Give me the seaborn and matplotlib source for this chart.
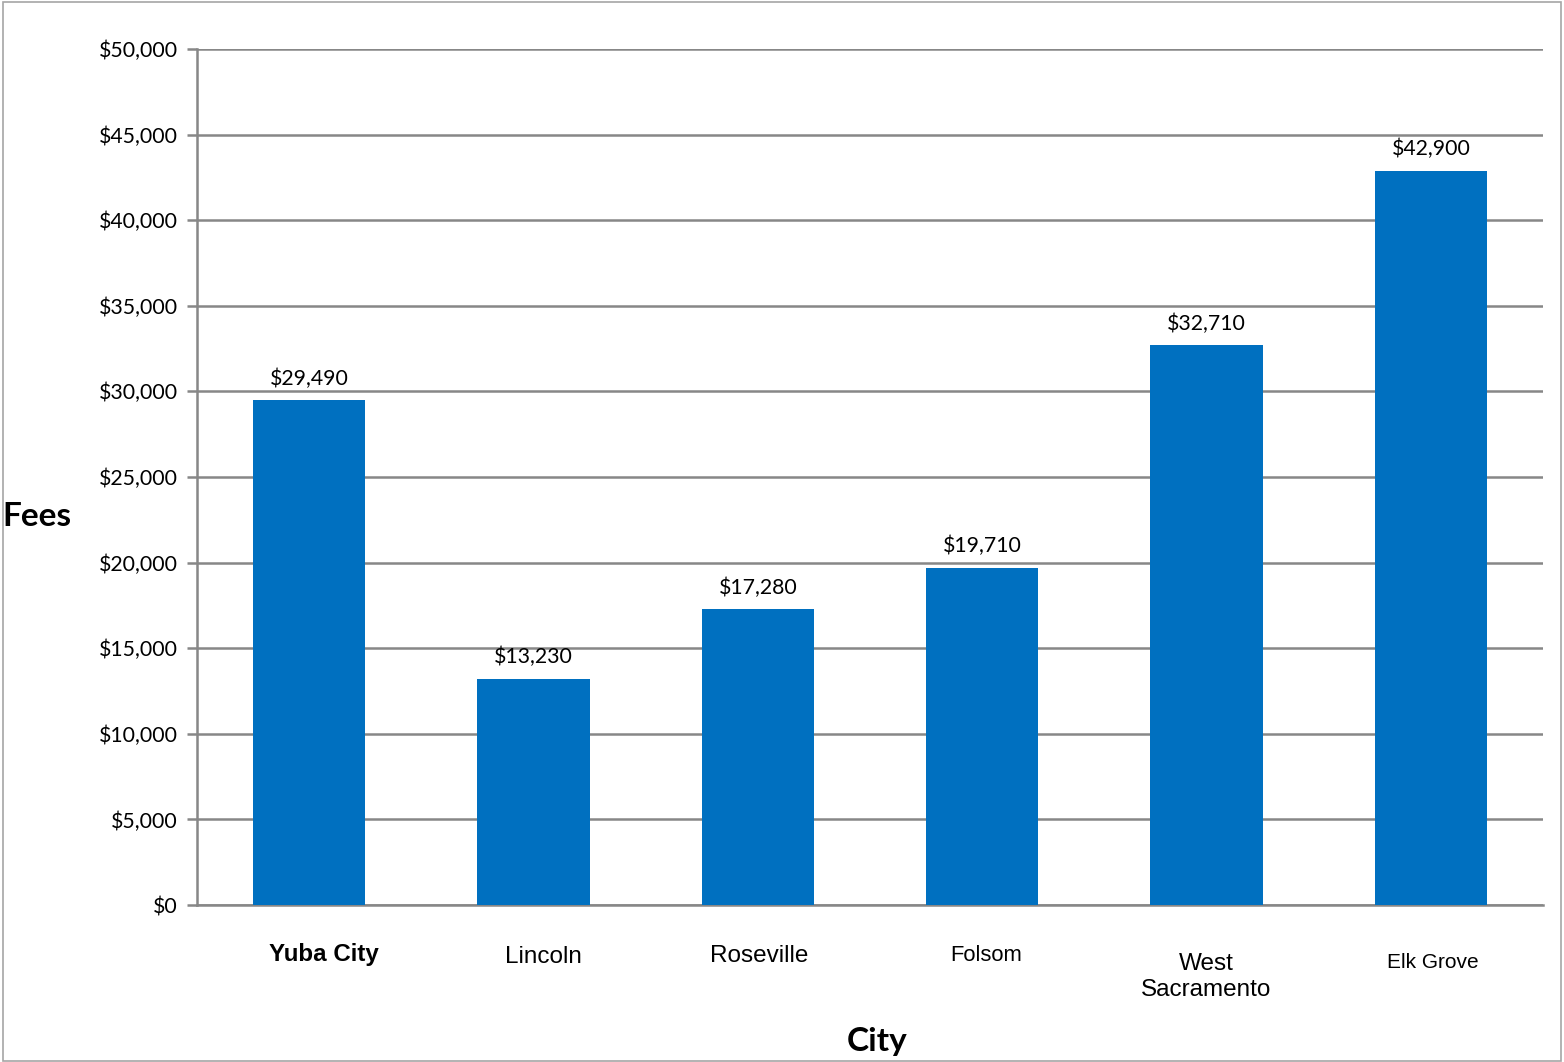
import matplotlib
matplotlib.use("Agg")
import matplotlib.pyplot as plt
import matplotlib.transforms as mtransforms
import seaborn as sns
import pandas as pd
from matplotlib.patches import Rectangle
from matplotlib.ticker import FuncFormatter, MultipleLocator

cities = ["Yuba City", "Lincoln", "Roseville", "Folsom", "West\nSacramento", "Elk Grove"]
fees = [29490, 13230, 17280, 19710, 32710, 42900]
label_sizes = [17.4, 17.5, 17.5, 15.8, 17.5, 15.0]
label_weights = ["bold", "normal", "normal", "normal", "normal", "normal"]
label_dx = [15, 10, 1, 4, 0, 2]      # pixel nudges to mimic reference placement
label_dy = [-49, -52, -51, -50, -72, -57]

df = pd.DataFrame({"City": cities, "Fees": fees})

sns.set_theme(style="white")
plt.rcParams["font.family"] = ["Lato", "DejaVu Sans"]
plt.rcParams["text.color"] = "black"
plt.rcParams["xtick.color"] = "black"
plt.rcParams["ytick.color"] = "black"
plt.rcParams["axes.labelcolor"] = "black"

fig = plt.figure(figsize=(15.64, 10.62), dpi=100)
ax = fig.add_axes([0.126, 0.1478, 0.8606, 0.8061])

sns.barplot(data=df, x="City", y="Fees", color="#0070C0", saturation=1, width=0.5,
            linewidth=0, edgecolor="none", ax=ax, zorder=3)

ax.set_ylim(0, 50000)
ax.yaxis.set_major_locator(MultipleLocator(5000))
ax.yaxis.set_major_formatter(FuncFormatter(lambda v, p: f"${v:,.0f}"))
ax.grid(axis="y", color="#878787", linewidth=1.8, zorder=0)
ax.set_axisbelow(True)

for s in ["top", "right"]:
    ax.spines[s].set_visible(False)
for s in ["left", "bottom"]:
    ax.spines[s].set_color("#878787")
    ax.spines[s].set_linewidth(1.8)

ax.tick_params(axis="y", length=7, width=1.8, color="#878787", labelcolor="black",
               labelsize=15.3, pad=7, left=True)
ax.tick_params(axis="x", length=0)

for c in ax.containers:
    ax.bar_label(c, labels=[f"${v:,.0f}" for v in fees], padding=8, fontsize=15.3, color="black")

ax.set_xticklabels([])
for i, name in enumerate(cities):
    tr = ax.get_xaxis_transform() + mtransforms.ScaledTranslation(label_dx[i] / 100, label_dy[i] / 100, fig.dpi_scale_trans)
    ax.text(i, 0, name, transform=tr, ha="center", va="center", fontsize=label_sizes[i],
            fontweight=label_weights[i], family=["Liberation Sans", "DejaVu Sans"],
            linespacing=1.25, color="black")

ax.set_xlabel("")
ax.set_ylabel("")
fig.text(37 / 1564, 1 - 517 / 1062, "Fees", ha="center", va="center", fontsize=24, fontweight="bold")
fig.text(877 / 1564, 1 - 1041 / 1062, "City", ha="center", va="center", fontsize=24, fontweight="bold")

fig.patches.append(Rectangle((0.002, 0.001), 0.996, 0.997, transform=fig.transFigure,
                             fill=False, edgecolor="#a6a6a6", linewidth=1.2))

fig.savefig("out.png", dpi=100, facecolor="white")
